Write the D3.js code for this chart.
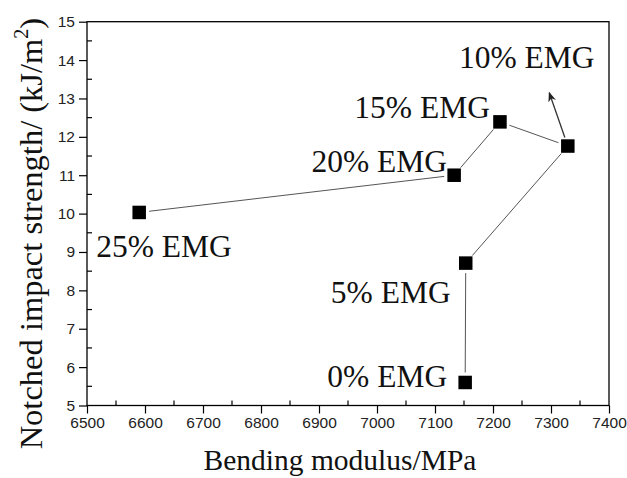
<!DOCTYPE html>
<html><head><meta charset="utf-8">
<script src="https://cdn.jsdelivr.net/npm/d3@7"></script>
<style>body{margin:0;background:#fff}svg{display:block}</style>
</head><body>
<svg id="c" width="627" height="478"></svg>
<script>
const labels = ["0% EMG","5% EMG","10% EMG","15% EMG","20% EMG","25% EMG"];
const modulus = [7152, 7153, 7329, 7212, 7133, 6590];
const impact = [5.60, 8.71, 11.76, 12.39, 11.00, 10.03];
const xTicks = [6500,6600,6700,6800,6900,7000,7100,7200,7300,7400];
const yTicks = [5,6,7,8,9,10,11,12,13,14,15];
// label placement offsets (px) relative to markers: [dx, dy, anchor]
const labelOffsets = [[-18,5,"end"],[-15,40,"end"],[-41,-78,"middle"],[-10,-4,"end"],[-7,-3,"end"],[-43,45,"start"]];
// arrow end (data coords) for 10% EMG
const arrowTip = [7297, 13.15];

const svg = d3.select("#c");
const L=87, R=609, T=21.7, B=405.5;
const x = d3.scaleLinear().domain([6500,7400]).range([L,R]);
const y = d3.scaleLinear().domain([5,15]).range([B,T]);
const serif = "'Liberation Serif','Times New Roman',serif";
const sans = "'Liberation Sans',Arial,sans-serif";

// frame
svg.append("rect").attr("x",L).attr("y",T).attr("width",R-L).attr("height",B-T)
  .attr("fill","none").attr("stroke","#000").attr("stroke-width",1.3);

// x axis
const xa = svg.append("g").attr("transform",`translate(0,${B})`)
  .call(d3.axisBottom(x).tickValues(xTicks).tickFormat(d3.format("d")).tickSize(8).tickPadding(3));
xa.select(".domain").remove();
xa.selectAll("line").attr("stroke","#000").attr("stroke-width",1.2);
xa.selectAll("text").attr("font-family",sans).attr("font-size",15.5).attr("fill","#222");
const xMinor = d3.range(6550,7400,100);
svg.append("g").selectAll("line").data(xMinor).join("line")
  .attr("x1",d=>x(d)).attr("x2",d=>x(d)).attr("y1",B).attr("y2",B-5)
  .attr("stroke","#000").attr("stroke-width",1.2);

// y axis
const ya = svg.append("g").attr("transform",`translate(${L},0)`)
  .call(d3.axisLeft(y).tickValues(yTicks).tickFormat(d3.format("d")).tickSize(8).tickPadding(4));
ya.select(".domain").remove();
ya.selectAll("line").attr("stroke","#000").attr("stroke-width",1.2);
ya.selectAll("text").attr("font-family",sans).attr("font-size",15.5).attr("fill","#222");
const yMinor = d3.range(5.5,15,1);
svg.append("g").selectAll("line").data(yMinor).join("line")
  .attr("x1",L).attr("x2",L+5).attr("y1",d=>y(d)).attr("y2",d=>y(d))
  .attr("stroke","#000").attr("stroke-width",1.2);

// axis titles
svg.append("text").attr("x",(L+R)/2-8).attr("y",470).attr("text-anchor","middle")
  .attr("font-family",serif).attr("font-size",29.5).attr("fill","#111").text("Bending modulus/MPa");
const yt = svg.append("text").attr("transform",`translate(42,${(T+B)/2+20}) rotate(-90)`)
  .attr("text-anchor","middle").attr("font-family",serif).attr("font-size",32.5).attr("fill","#111");
yt.append("tspan").text("Notched impact strength/ (kJ/m");
yt.append("tspan").attr("font-size",20).attr("dy",-14).text("2");
yt.append("tspan").attr("dy",14).text(")");

// connecting lines with gaps at markers
const pts = modulus.map((m,i)=>[x(m),y(impact[i])]);
const gap = 10;
for(let i=0;i<pts.length-1;i++){
  const [x1,y1]=pts[i],[x2,y2]=pts[i+1];
  const dx=x2-x1, dy=y2-y1, len=Math.hypot(dx,dy);
  const ux=dx/len, uy=dy/len;
  svg.append("line").attr("x1",x1+ux*gap).attr("y1",y1+uy*gap)
    .attr("x2",x2-ux*gap).attr("y2",y2-uy*gap)
    .attr("stroke","#555").attr("stroke-width",1);
}

// arrow
svg.append("defs").append("marker").attr("id","ah").attr("viewBox","0 0 10 10")
  .attr("refX",9).attr("refY",5).attr("markerWidth",10).attr("markerHeight",10)
  .attr("markerUnits","userSpaceOnUse").attr("orient","auto")
  .append("path").attr("d","M0,1 L10,5 L0,9 L3,5 Z").attr("fill","#222");
{
  const [sx,sy]=pts[2];
  const tx=x(arrowTip[0]), ty=y(arrowTip[1]);
  const dx=tx-sx, dy=ty-sy, len=Math.hypot(dx,dy);
  svg.append("line").attr("x1",sx+dx/len*9).attr("y1",sy+dy/len*9).attr("x2",tx).attr("y2",ty)
    .attr("stroke","#333").attr("stroke-width",1.3).attr("marker-end","url(#ah)");
}

// markers
const s=13.5;
svg.append("g").selectAll("rect").data(pts).join("rect")
  .attr("x",d=>d[0]-s/2).attr("y",d=>d[1]-s/2).attr("width",s).attr("height",s).attr("fill","#000");

// labels
svg.append("g").selectAll("text").data(labels).join("text")
  .attr("x",(d,i)=>pts[i][0]+labelOffsets[i][0]).attr("y",(d,i)=>pts[i][1]+labelOffsets[i][1])
  .attr("text-anchor",(d,i)=>labelOffsets[i][2])
  .attr("font-family",serif).attr("font-size",31.5).attr("fill","#111").text(d=>d);
</script>
</body></html>
